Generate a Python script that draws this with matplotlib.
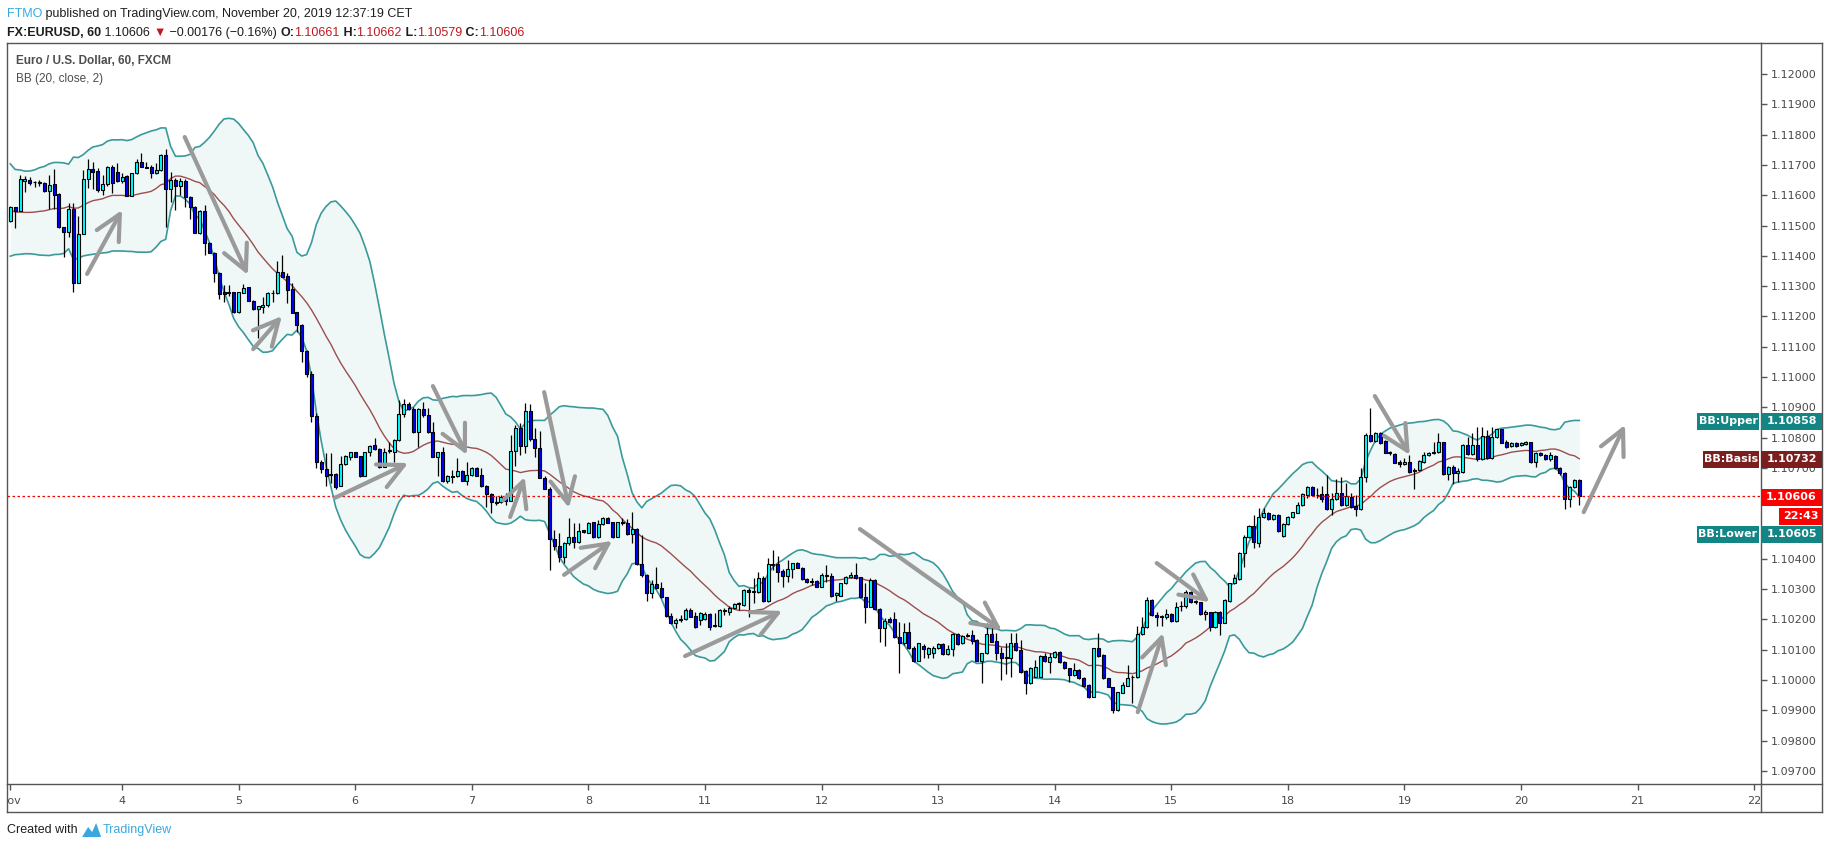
import matplotlib
matplotlib.use("Agg")
import matplotlib.pyplot as plt
from matplotlib.patches import Rectangle, Polygon
from matplotlib.lines import Line2D
from matplotlib.transforms import Bbox, TransformedBbox
import numpy as np
import pandas as pd

# FX:EURUSD 60 min candles, prices in points (price x 1e5)
open_pts = [
    111516, 111560, 111547, 111648, 111649, 111643, 111640, 111639, 111615, 111637, 111603, 111494,
    111480, 111555, 111311, 111471, 111652, 111685, 111680, 111617, 111636, 111692, 111675, 111646,
    111662, 111599, 111672, 111711, 111694, 111694, 111674, 111682, 111732, 111622, 111650, 111630,
    111648, 111595, 111562, 111476, 111548, 111441, 111410, 111344, 111280, 111279, 111280, 111216,
    111278, 111296, 111252, 111225, 111232, 111237, 111276, 111276, 111347, 111333, 111289, 111213,
    111171, 111087, 111010, 110870, 110720, 110695, 110679, 110679, 110640, 110712, 110737, 110751,
    110738, 110674, 110751, 110774, 110761, 110704, 110756, 110754, 110792, 110877, 110910, 110896,
    110820, 110896, 110874, 110820, 110737, 110751, 110658, 110674, 110673, 110690, 110658, 110677,
    110699, 110677, 110641, 110613, 110588, 110586, 110605, 110592, 110757, 110833, 110773, 110887,
    110794, 110765, 110668, 110632, 110464, 110442, 110407, 110453, 110473, 110457, 110495, 110486,
    110520, 110471, 110514, 110536, 110520, 110473, 110520, 110519, 110481, 110497, 110382, 110347,
    110286, 110317, 110303, 110273, 110212, 110187, 110197, 110200, 110231, 110211, 110198, 110200,
    110218, 110178, 110179, 110228, 110226, 110237, 110251, 110248, 110297, 110292, 110292, 110338,
    110261, 110380, 110383, 110361, 110343, 110365, 110385, 110371, 110332, 110327, 110327, 110308,
    110347, 110343, 110280, 110278, 110319, 110339, 110347, 110339, 110275, 110242, 110330, 110233,
    110173, 110200, 110200, 110143, 110121, 110160, 110105, 110064, 110113, 110086, 110088, 110105,
    110119, 110086, 110101, 110152, 110121, 110144, 110147, 110132, 110064, 110088, 110151, 110129,
    110088, 110075, 110074, 110121, 110099, 110030, 109989, 110011, 110011, 110079, 110061, 110075,
    110094, 110061, 110039, 110017, 110033, 110006, 109983, 109945, 110105, 110081, 110006, 109976,
    109901, 109958, 109981, 110009, 110009, 110151, 110174, 110264, 110214, 110211, 110209, 110217,
    110196, 110243, 110243, 110292, 110261, 110256, 110217, 110223, 110174, 110223, 110189, 110262,
    110319, 110333, 110418, 110471, 110508, 110453, 110537, 110550, 110530, 110544, 110475, 110515,
    110537, 110552, 110578, 110611, 110637, 110611, 110613, 110613, 110563, 110596, 110616, 110578,
    110605, 110574, 110563, 110669, 110809, 110790, 110816, 110789, 110753, 110746, 110720, 110712,
    110720, 110690, 110692, 110720, 110743, 110749, 110751, 110784, 110679, 110702, 110682, 110688,
    110776, 110745, 110776, 110728, 110805, 110732, 110801, 110827, 110787, 110773, 110783, 110776,
    110779, 110784, 110720, 110750, 110743, 110728, 110740, 110699, 110684, 110597, 110636, 110661,
]
high_pts = [
    111565, 111560, 111667, 111663, 111661, 111646, 111650, 111645, 111667, 111685, 111606, 111496,
    111575, 111573, 111533, 111683, 111718, 111711, 111689, 111667, 111696, 111700, 111705, 111672,
    111667, 111674, 111721, 111738, 111711, 111700, 111707, 111736, 111751, 111677, 111656, 111656,
    111652, 111597, 111564, 111551, 111568, 111447, 111414, 111348, 111304, 111304, 111282, 111282,
    111307, 111298, 111254, 111234, 111265, 111282, 111287, 111384, 111403, 111342, 111309, 111215,
    111175, 111090, 111020, 110880, 110726, 110748, 110750, 110682, 110739, 110742, 110754, 110754,
    110739, 110754, 110776, 110798, 110765, 110765, 110786, 110794, 110924, 110926, 110919, 110902,
    110899, 110919, 110897, 110853, 110754, 110770, 110677, 110693, 110732, 110693, 110721, 110704,
    110704, 110699, 110644, 110616, 110607, 110611, 110616, 110809, 110842, 110847, 110913, 110911,
    110831, 110823, 110673, 110638, 110495, 110486, 110457, 110536, 110517, 110517, 110495, 110522,
    110522, 110528, 110539, 110537, 110522, 110522, 110536, 110533, 110553, 110501, 110479, 110350,
    110330, 110374, 110325, 110275, 110220, 110204, 110215, 110237, 110237, 110226, 110226, 110226,
    110222, 110220, 110233, 110237, 110244, 110253, 110259, 110299, 110302, 110336, 110358, 110343,
    110402, 110429, 110409, 110365, 110396, 110387, 110391, 110374, 110336, 110336, 110330, 110352,
    110380, 110352, 110292, 110321, 110343, 110358, 110385, 110341, 110321, 110336, 110332, 110237,
    110204, 110209, 110226, 110193, 110189, 110193, 110112, 110123, 110118, 110110, 110112, 110123,
    110123, 110115, 110154, 110156, 110149, 110154, 110165, 110134, 110090, 110187, 110200, 110154,
    110110, 110121, 110154, 110154, 110132, 110033, 110044, 110066, 110082, 110088, 110088, 110097,
    110096, 110063, 110041, 110057, 110035, 110011, 109986, 110107, 110154, 110085, 110008, 109978,
    109962, 109994, 110050, 110017, 110178, 110209, 110273, 110266, 110226, 110214, 110233, 110220,
    110259, 110260, 110297, 110295, 110264, 110259, 110231, 110226, 110228, 110228, 110266, 110321,
    110350, 110424, 110479, 110512, 110544, 110567, 110567, 110556, 110547, 110547, 110517, 110541,
    110556, 110589, 110618, 110640, 110640, 110633, 110640, 110677, 110616, 110665, 110671, 110649,
    110616, 110610, 110699, 110816, 110897, 110820, 110820, 110792, 110756, 110748, 110726, 110732,
    110743, 110699, 110726, 110754, 110754, 110787, 110814, 110787, 110706, 110710, 110699, 110778,
    110801, 110816, 110836, 110836, 110825, 110836, 110829, 110829, 110792, 110787, 110787, 110787,
    110789, 110787, 110754, 110754, 110746, 110754, 110743, 110702, 110688, 110640, 110663, 110662,
]
low_pts = [
    111513, 111491, 111547, 111612, 111634, 111626, 111630, 111612, 111553, 111553, 111491, 111397,
    111463, 111282, 111311, 111471, 111623, 111619, 111612, 111600, 111630, 111606, 111645, 111641,
    111599, 111599, 111670, 111692, 111689, 111656, 111670, 111680, 111494, 111578, 111551, 111600,
    111560, 111523, 111476, 111472, 111403, 111408, 111315, 111256, 111249, 111267, 111212, 111212,
    111278, 111252, 111221, 111128, 111210, 111232, 111249, 111274, 111331, 111243, 111210, 111150,
    111050, 111000, 110850, 110700, 110682, 110640, 110651, 110632, 110640, 110710, 110726, 110735,
    110669, 110673, 110740, 110759, 110701, 110702, 110748, 110721, 110790, 110869, 110891, 110816,
    110770, 110869, 110816, 110735, 110673, 110654, 110651, 110651, 110671, 110658, 110644, 110673,
    110673, 110638, 110572, 110550, 110578, 110585, 110578, 110592, 110706, 110743, 110750, 110790,
    110737, 110666, 110629, 110363, 110429, 110391, 110385, 110446, 110435, 110453, 110486, 110484,
    110468, 110468, 110512, 110517, 110468, 110471, 110512, 110479, 110451, 110380, 110341, 110262,
    110270, 110299, 110270, 110209, 110185, 110171, 110193, 110198, 110207, 110173, 110182, 110198,
    110165, 110176, 110176, 110215, 110215, 110234, 110231, 110244, 110209, 110253, 110288, 110259,
    110259, 110363, 110324, 110308, 110324, 110338, 110369, 110330, 110319, 110314, 110306, 110306,
    110325, 110275, 110262, 110277, 110317, 110336, 110332, 110270, 110189, 110240, 110231, 110127,
    110112, 110189, 110138, 110024, 110116, 110101, 110060, 110062, 110072, 110072, 110072, 110101,
    110083, 110083, 110079, 110116, 110119, 110141, 110119, 110063, 109991, 110085, 110124, 110066,
    110000, 110020, 110011, 110097, 110024, 109953, 109987, 110009, 110009, 110061, 110024, 110072,
    110055, 110036, 109995, 110013, 110003, 109978, 109942, 109943, 110077, 110002, 109976, 109890,
    109899, 109956, 109980, 109925, 110006, 110149, 110170, 110211, 110178, 110178, 110201, 110192,
    110192, 110229, 110237, 110255, 110251, 110215, 110198, 110163, 110170, 110149, 110187, 110259,
    110317, 110330, 110374, 110467, 110435, 110440, 110534, 110528, 110528, 110490, 110473, 110512,
    110534, 110550, 110574, 110600, 110607, 110600, 110589, 110561, 110545, 110594, 110574, 110574,
    110567, 110541, 110561, 110655, 110787, 110787, 110779, 110748, 110743, 110715, 110702, 110710,
    110684, 110629, 110690, 110717, 110739, 110746, 110748, 110677, 110660, 110646, 110655, 110684,
    110743, 110743, 110724, 110726, 110729, 110729, 110798, 110781, 110765, 110770, 110770, 110772,
    110776, 110717, 110702, 110739, 110726, 110724, 110695, 110677, 110563, 110572, 110633, 110579,
]
close_pts = [
    111562, 111547, 111652, 111653, 111641, 111642, 111645, 111615, 111635, 111600, 111494, 111478,
    111553, 111311, 111471, 111652, 111685, 111676, 111617, 111636, 111692, 111641, 111647, 111661,
    111599, 111672, 111711, 111692, 111691, 111674, 111682, 111732, 111622, 111650, 111630, 111648,
    111595, 111562, 111476, 111548, 111441, 111410, 111344, 111273, 111274, 111277, 111216, 111280,
    111295, 111252, 111225, 111233, 111237, 111276, 111278, 111347, 111331, 111287, 111212, 111171,
    111087, 111010, 110870, 110720, 110695, 110673, 110677, 110638, 110712, 110738, 110751, 110737,
    110674, 110751, 110773, 110761, 110704, 110754, 110759, 110792, 110877, 110910, 110896, 110820,
    110896, 110874, 110820, 110737, 110751, 110658, 110674, 110671, 110690, 110658, 110677, 110699,
    110674, 110641, 110613, 110586, 110585, 110605, 110592, 110757, 110831, 110773, 110887, 110794,
    110765, 110668, 110632, 110464, 110442, 110407, 110453, 110473, 110457, 110493, 110487, 110519,
    110471, 110514, 110536, 110519, 110471, 110520, 110517, 110481, 110497, 110382, 110346, 110286,
    110316, 110303, 110273, 110212, 110187, 110198, 110200, 110231, 110209, 110174, 110220, 110218,
    110176, 110182, 110231, 110231, 110237, 110251, 110253, 110297, 110289, 110294, 110338, 110261,
    110382, 110383, 110358, 110343, 110365, 110385, 110371, 110332, 110322, 110323, 110308, 110347,
    110343, 110278, 110286, 110319, 110341, 110347, 110338, 110275, 110242, 110330, 110233, 110173,
    110196, 110193, 110141, 110121, 110160, 110105, 110064, 110121, 110102, 110105, 110107, 110119,
    110086, 110101, 110152, 110118, 110145, 110147, 110130, 110064, 110088, 110151, 110127, 110088,
    110074, 110072, 110121, 110099, 110028, 109989, 110041, 110044, 110079, 110063, 110077, 110094,
    110058, 110039, 110017, 110033, 110006, 109981, 109945, 110105, 110079, 110006, 109976, 109901,
    109959, 109984, 110008, 110011, 110151, 110174, 110264, 110214, 110207, 110207, 110217, 110196,
    110242, 110245, 110292, 110259, 110257, 110217, 110223, 110174, 110223, 110187, 110264, 110319,
    110336, 110420, 110471, 110508, 110457, 110539, 110550, 110530, 110545, 110492, 110515, 110539,
    110553, 110578, 110613, 110637, 110611, 110609, 110596, 110563, 110597, 110616, 110578, 110607,
    110570, 110563, 110669, 110809, 110790, 110816, 110783, 110750, 110748, 110717, 110712, 110720,
    110688, 110693, 110723, 110743, 110750, 110754, 110784, 110679, 110702, 110682, 110690, 110776,
    110745, 110776, 110728, 110805, 110732, 110803, 110827, 110783, 110770, 110783, 110773, 110781,
    110784, 110720, 110748, 110743, 110728, 110743, 110699, 110684, 110597, 110636, 110660, 110606,
]
# closes before the first visible bar, only used to start the BB(20) window
warmup_pts = [111680, 111660, 111670, 111640, 111620, 111600, 111580, 111560, 111520, 111490,
              111460, 111440, 111430, 111450, 111480, 111510, 111540, 111560, 111570]

day_ticks = [0, 23, 47, 71, 95, 119, 143, 167, 191, 215, 239, 263, 287, 311, 335, 359]
day_labels = ['Nov', '4', '5', '6', '7', '8', '11', '12', '13', '14', '15', '18', '19', '20', '21', '22']
price_ticks = [1.097 + 0.001 * k for k in range(24)]
hidden_ticks = [1.105, 1.106]   # sit under the price tags

# hand-drawn arrows: (bar index, price) start -> end
arrows = [
    ((15.8, 1.11340), (23.0, 1.11551)), ((35.9, 1.11792), (48.9, 1.11337)),
    ((50.0, 1.11092), (55.9, 1.11201)), ((66.8, 1.10601), (81.9, 1.10716)),
    ((87.0, 1.10970), (94.0, 1.10743)), ((102.9, 1.10538), (105.9, 1.10670)),
    ((109.9, 1.10950), (115.0, 1.10568)), ((114.0, 1.10347), (123.9, 1.10459)),
    ((138.9, 1.10079), (158.9, 1.10228)), ((174.9, 1.10498), (204.1, 1.10165)),
    ((232.1, 1.09894), (237.3, 1.10155)), ((236.0, 1.10386), (246.9, 1.10257)),
    ((280.9, 1.10937), (288.1, 1.10743)), ((323.9, 1.10554), (332.4, 1.10842)),
]

assert len(open_pts) == len(high_pts) == len(low_pts) == len(close_pts)

o = np.array(open_pts) / 1e5
h = np.array(high_pts) / 1e5
l = np.array(low_pts) / 1e5
c = np.array(close_pts) / 1e5
n = len(c)
x = np.arange(n)

s = pd.Series(warmup_pts + close_pts) / 1e5
basis = s.rolling(20).mean()
dev = s.rolling(20).std(ddof=0)
upper = (basis + 2 * dev).values[-n:]
lower = (basis - 2 * dev).values[-n:]
basis = basis.values[-n:]

W, H = 1828, 849
def fx(px):
    return px / W
def fy(py):
    return 1 - py / H

NARROW = ['Liberation Sans Narrow', 'Liberation Sans', 'DejaVu Sans']
GRID = '#555555'

fig = plt.figure(figsize=(W / 100, H / 100), dpi=100)
fig.patch.set_facecolor('white')
ax = fig.add_axes([fx(7), fy(784), (1761 - 7) / W, (784 - 43) / H])
ax.set_facecolor('white')
ax.set_xlim(-0.68, 360.4)
ax.set_ylim(1.0965677, 1.1210231)

# bollinger bands
ax.fill_between(x, lower, upper, color='#f0f7f7', lw=0, zorder=1)
ax.plot(x, upper, color='#3a9a9a', lw=1.2, zorder=2)
ax.plot(x, lower, color='#3a9a9a', lw=1.2, zorder=2)
ax.plot(x, basis, color='#8e3030', lw=1.0, alpha=0.85, zorder=2)

# candles
ax.vlines(x, l, h, color='black', lw=0.9, zorder=3)
cols = np.where(c >= o, '#00ffff', '#0000ff')
ax.bar(x, c - o, bottom=o, width=0.62, color=cols, edgecolor='black', lw=0.8, zorder=4)

ax.axhline(c[-1], color='#ff0000', lw=0.9, ls=(0, (2, 2)), zorder=5)

for (x0, p0), (x1, p1) in arrows:
    ax.annotate('', xy=(x1, p1), xytext=(x0, p0),
                arrowprops=dict(arrowstyle='->,head_length=0.9,head_width=0.45',
                                color='#9a9a9a', lw=3, mutation_scale=20,
                                shrinkA=0, shrinkB=0),
                zorder=6, annotation_clip=False)

# axes / ticks
for sp in ax.spines.values():
    sp.set_color(GRID)
    sp.set_linewidth(1)
ax.yaxis.tick_right()
ax.set_yticks(price_ticks)
ax.set_yticklabels(['' if any(abs(p - q) < 1e-7 for q in hidden_ticks) else '%.5f' % p
                    for p in price_ticks])
ax.set_xticks(day_ticks)
ax.set_xticklabels(day_labels)
ax.tick_params(axis='y', direction='out', length=4, width=1, color=GRID,
               labelcolor='#4a4a4a', labelsize=8, pad=3)
ax.tick_params(axis='x', direction='out', length=4, width=1, color=GRID,
               labelcolor='#4a4a4a', labelsize=8, pad=5)
clip = TransformedBbox(Bbox.from_extents(fx(8), 0, fx(1760), 1), fig.transFigure)
for t in ax.xaxis.get_major_ticks():
    t.label1.set_clip_box(clip)
    t.label1.set_clip_on(True)

# outer frame of price / time scales
for (xa, ya, xb, yb) in [(1761, 43, 1822, 43), (1822, 43, 1822, 812), (7, 812, 1822, 812),
                         (7, 784, 7, 812), (1761, 784, 1822, 784), (1761, 784, 1761, 812)]:
    fig.add_artist(Line2D([fx(xa), fx(xb)], [fy(ya), fy(yb)], color=GRID, lw=1,
                          transform=fig.transFigure))

def tag(x0, x1, yc, text, face, hh=17):
    fig.add_artist(Rectangle((fx(x0), fy(yc + hh / 2)), (x1 - x0) / W, hh / H,
                             transform=fig.transFigure, facecolor=face, edgecolor='none', zorder=5))
    fig.text(fx((x0 + x1) / 2), fy(yc), text, color='white', fontsize=8, fontweight='bold',
             ha='center', va='center', zorder=6)

TEAL = '#138585'
tag(1697, 1759, 421, 'BB:Upper', TEAL)
tag(1761, 1822, 421, '1.10858', TEAL)
tag(1703, 1759, 459, 'BB:Basis', '#7b1e1e')
tag(1761, 1822, 459, '1.10732', '#7b1e1e')
tag(1761, 1822, 497, '1.10606', '#ff0000')
tag(1779, 1822, 516, '22:43', '#ff0000')
tag(1697, 1759, 534, 'BB:Lower', TEAL)
tag(1761, 1822, 534, '1.10605', TEAL)

renderer = fig.canvas.get_renderer()
def text_run(px, py, parts, size=9):
    for txt, color, weight in parts:
        t = fig.text(fx(px), fy(py), txt, color=color, fontsize=size, fontweight=weight,
                     family=NARROW, ha='left', va='center')
        px += t.get_window_extent(renderer=renderer).width
    return px

DARK = '#1e1e1e'
RED = '#c0181e'
text_run(7, 14, [('FTMO', '#3aa8de', 'normal'),
                 (' published on TradingView.com, November 20, 2019 12:37:19 CET', DARK, 'normal')])
text_run(7, 33, [('FX:EURUSD, 60', DARK, 'bold'), (' 1.10606 ', DARK, 'normal'),
                 ('\u25bc', RED, 'normal'), (' \u22120.00176 (\u22120.16%) ', DARK, 'normal'),
                 ('O:', DARK, 'bold'), ('1.10661', RED, 'normal'),
                 (' H:', DARK, 'bold'), ('1.10662', RED, 'normal'),
                 (' L:', DARK, 'bold'), ('1.10579', RED, 'normal'),
                 (' C:', DARK, 'bold'), ('1.10606', RED, 'normal')])
text_run(16, 61, [('Euro / U.S. Dollar, 60, FXCM', '#4d4d4d', 'bold')], size=8.5)
text_run(16, 79, [('BB (20, close, 2)', '#4d4d4d', 'normal')], size=8.5)

xe = text_run(7, 830, [('Created with ', DARK, 'normal')])
fig.add_artist(Polygon([(fx(xe + 1), fy(837)), (fx(xe + 7), fy(827)), (fx(xe + 11), fy(832)),
                        (fx(xe + 15), fy(823)), (fx(xe + 20), fy(837))], closed=True,
                       facecolor='#3aa8de', edgecolor='none', transform=fig.transFigure))
text_run(xe + 22, 830, [('TradingView', '#3aa8de', 'normal')])

fig.savefig('out.png', dpi=100)
